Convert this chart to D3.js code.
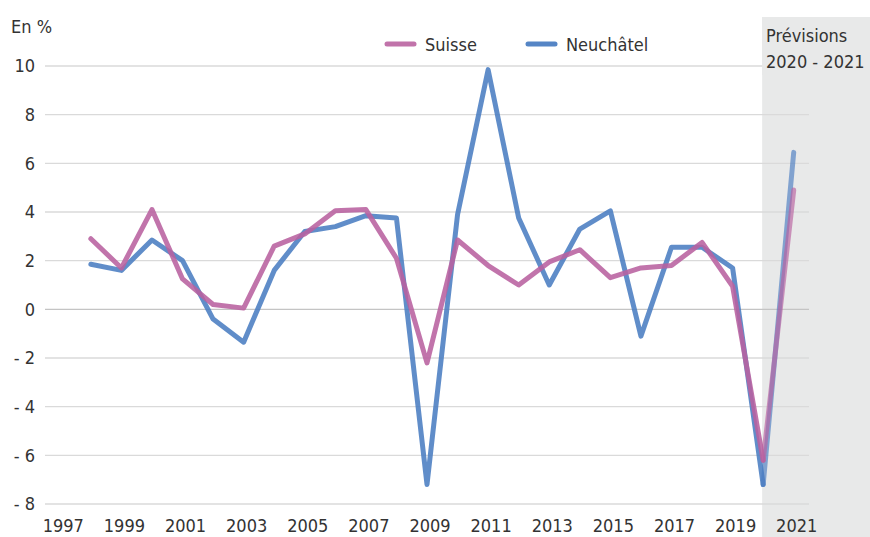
<!DOCTYPE html>
<html>
<head>
<meta charset="utf-8">
<script src="https://cdn.jsdelivr.net/npm/d3@7.9.0/dist/d3.min.js"></script>
<style>
  body { margin: 0; background: #fff; }
  svg text { font-family: "DejaVu Sans Condensed", "Liberation Sans Narrow", sans-serif; font-stretch: condensed; fill: #333; }
</style>
</head>
<body>
<svg id="chart" width="870" height="537"></svg>
<script>
const years = d3.range(1997, 2022);
const suisse = [null, 2.9, 1.7, 4.1, 1.25, 0.2, 0.05, 2.6, 3.1, 4.05, 4.1, 2.1, -2.2, 2.85, 1.8, 1.0, 1.95, 2.45, 1.3, 1.7, 1.8, 2.75, 0.95, -6.2, 4.9];
const neuchatel = [null, 1.85, 1.6, 2.85, 2.0, -0.4, -1.35, 1.6, 3.2, 3.4, 3.85, 3.75, -7.2, 3.9, 9.85, 3.75, 1.0, 3.3, 4.05, -1.1, 2.55, 2.55, 1.7, -7.2, 6.45];
const yTicks = [-8, -6, -4, -2, 0, 2, 4, 6, 8, 10];
const xTickYears = years.filter(y => y % 2 === 1);
const forecastFrom = 2020;

const svg = d3.select('#chart');

const x = d3.scaleBand().domain(years).range([45, 809]);
const cx = (yr) => x(yr) + x.bandwidth() / 2;
const y = d3.scaleLinear().domain([-8, 10]).range([504, 66]);

// forecast background
svg.append('rect')
  .attr('x', cx(forecastFrom) - 1)
  .attr('y', 17)
  .attr('width', 870 - cx(forecastFrom) + 1)
  .attr('height', 537 - 17)
  .attr('fill', '#e8e9e9');

// grid
svg.append('g')
  .selectAll('line')
  .data(yTicks)
  .join('line')
  .attr('x1', 45)
  .attr('x2', 809)
  .attr('y1', d => y(d))
  .attr('y2', d => y(d))
  .attr('stroke', d => d === 0 ? '#c4c4c4' : '#dadada')
  .attr('stroke-width', 1.3);

// label box over the forecast area
svg.append('rect')
  .attr('x', cx(forecastFrom) - 1)
  .attr('y', 17)
  .attr('width', 870 - cx(forecastFrom) + 1)
  .attr('height', 58)
  .attr('fill', '#e8e9e9');

svg.append('text').attr('x', 766).attr('y', 42).attr('font-size', 18).text('Prévisions');
svg.append('text').attr('x', 766).attr('y', 68).attr('font-size', 18).text('2020 - 2021');

// y axis labels
svg.append('g')
  .selectAll('text')
  .data(yTicks)
  .join('text')
  .attr('x', 35)
  .attr('y', d => y(d))
  .attr('dy', '0.36em')
  .attr('text-anchor', 'end')
  .attr('font-size', 18)
  .text(d => d < 0 ? '- ' + Math.abs(d) : d);

svg.append('text').attr('x', 11).attr('y', 33).attr('font-size', 18).text('En %');

// x axis labels
svg.append('g')
  .selectAll('text')
  .data(xTickYears)
  .join('text')
  .attr('x', d => cx(d) + 3)
  .attr('y', 532)
  .attr('text-anchor', 'middle')
  .attr('font-size', 18)
  .text(d => d);

// lines
const series = [
  { name: 'Neuchâtel', values: neuchatel, color: '#4a7dc2' },
  { name: 'Suisse', values: suisse, color: '#b8619f' }
];

const line = d3.line()
  .defined(d => d.v !== null)
  .x(d => cx(d.year))
  .y(d => y(d.v));

series.forEach(s => {
  const pts = years.map((yr, i) => ({ year: yr, v: s.values[i] }));
  const hist = pts.filter(p => p.year <= forecastFrom);
  const fc = pts.filter(p => p.year >= forecastFrom);
  svg.append('path')
    .attr('d', line(hist))
    .attr('fill', 'none')
    .attr('stroke', s.color)
    .attr('stroke-width', 5)
    .attr('stroke-linejoin', 'round')
    .attr('stroke-linecap', 'round')
    .attr('stroke-opacity', 0.88);
  svg.append('path')
    .attr('d', line(fc))
    .attr('fill', 'none')
    .attr('stroke', s.color)
    .attr('stroke-width', 5)
    .attr('stroke-linejoin', 'round')
    .attr('stroke-linecap', 'round')
    .attr('stroke-opacity', 0.65);
});

// legend
const legend = [
  { name: 'Suisse', color: '#c173aa', x: 387 },
  { name: 'Neuchâtel', color: '#5585c5', x: 528 }
];
legend.forEach(l => {
  svg.append('line')
    .attr('x1', l.x).attr('x2', l.x + 27)
    .attr('y1', 44).attr('y2', 44)
    .attr('stroke', l.color)
    .attr('stroke-width', 5)
    .attr('stroke-linecap', 'round');
  svg.append('text')
    .attr('x', l.x + 38)
    .attr('y', 51)
    .attr('font-size', 18)
    .text(l.name);
});
</script>
</body>
</html>
